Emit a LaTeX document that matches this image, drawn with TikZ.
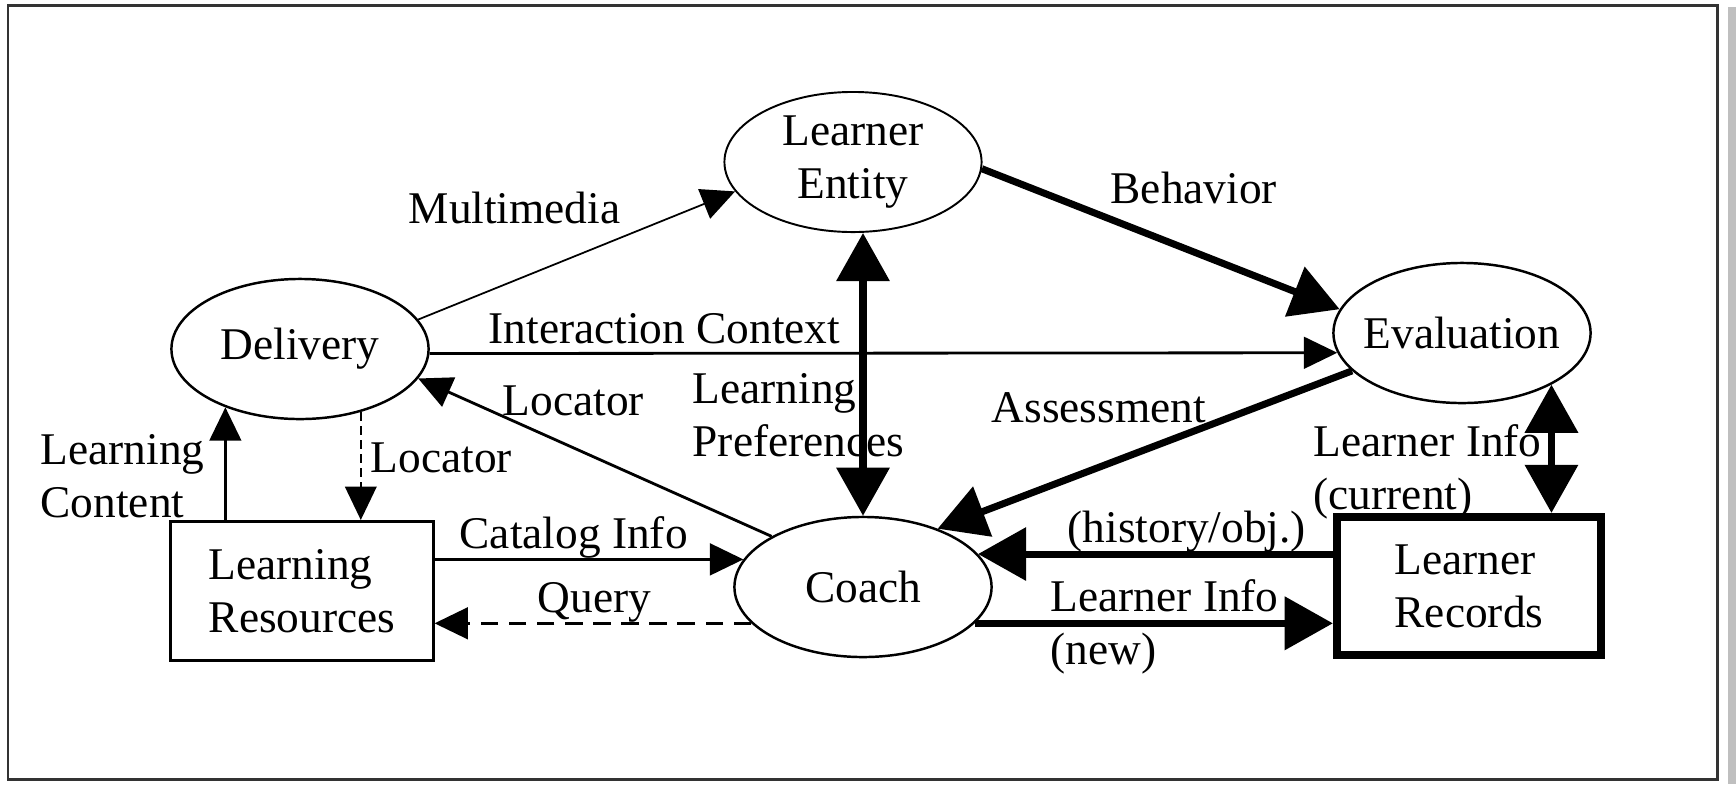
\documentclass[tikz,border=0pt]{standalone}
\usepackage{fontspec}
\setmainfont{Liberation Serif}
\usetikzlibrary{positioning}
\usetikzlibrary{shapes.geometric}
\usetikzlibrary{arrows.meta}

\begin{document}
\begin{tikzpicture}[x=0.01cm,y=-0.01cm,
    font=\fontsize{12.9}{15.1}\selectfont,
    proc/.style={ellipse,draw,line width=0.7pt,minimum width=2.57cm,minimum height=1.4cm,inner sep=0pt,inner xsep=-3pt,align=center},
    lbl/.style={inner sep=0pt,align=left},
    flow/.style={line width=0.8pt,-{Triangle[length=9.5pt,width=9pt]}},
    bigflow/.style={line width=2pt,-{Triangle[length=13.7pt,width=14.8pt]}},
    bigboth/.style={line width=2pt,{Triangle[length=13.7pt,width=14.8pt]}-{Triangle[length=13.7pt,width=14.8pt]}}]
  \useasboundingbox (0,0) rectangle (1736,784);
  \fill[black!25] (1728,7) rectangle (1736,784);
  \draw[line width=0.85pt,black!80] (8,5) rectangle (1717,779);

  \node[proc,line width=0.55pt] (ent) at (853,162) {Learner\\Entity};
  \node[proc] (dlv) at (300,349) {Delivery};
  \node[proc] (eval) at (1462,333) {Evaluation};
  \node[proc] (coach) at (863,587) {Coach};
  \node[draw,line width=0.85pt,minimum width=2.62cm,minimum height=1.39cm,align=left] (res) at (302,591) {Learning\\Resources};
  \node[draw,line width=2.3pt,minimum width=2.64cm,minimum height=1.38cm,align=left] (rec) at (1469,586) {Learner\\Records};

  \node[lbl,anchor=base west] (mm) at (408,223) {Multimedia};
  \node[lbl,anchor=base west] (ic) at (488,343) {Interaction Context};
  \node[lbl,anchor=base west] (bhv) at (1110,203) {Behavior};
  \node[lbl,anchor=base west] (loc1) at (502,415) {Locator};
  \node[lbl,anchor=north west] (pref) at (692,373) {Learning\\Preferences};
  \node[lbl,anchor=base west] (loc2) at (370,472) {Locator};
  \node[lbl,anchor=north west] (cont) at (40,434) {Learning\\Content};
  \node[lbl,anchor=base west] (cat) at (459,548) {Catalog Info};
  \node[lbl,anchor=base west] (qry) at (537,612) {Query};
  \node[lbl,anchor=base west] (asm) at (991,422) {Assessment};
  \node[lbl,anchor=north west] (cur) at (1313,424) {Learner Info\\(current)};
  \node[lbl,anchor=base west] (hist) at (1067,542) {(history/obj.)};
  \node[lbl,anchor=north west] (new) at (1050,579) {Learner Info\\(new)};

  \path[flow]
    (dlv.14) edge[line width=0.5pt] (ent.194)
    (dlv.-2) edge (eval.189)
    (coach.151) edge (dlv.-14)
    (dlv.218 |- res.north) edge (dlv.218)
    (coach.167 -| res.east) edge (coach.167);
  \path[flow,dash pattern=on 5pt off 3pt]
    (coach.198) edge (coach.198 -| res.east);
  \path[flow,line width=0.5pt,dash pattern=on 2.5pt off 1.5pt]
    (dlv.-46) edge (dlv.-46 |- res.north);
  \path[bigflow]
    (ent.-3) edge (eval.169)
    (eval.199) edge (coach.38)
    (coach.16 -| rec.west) edge (coach.16)
    (coach.-18) edge (coach.-18 -| rec.west);
  \path[bigboth]
    (coach.north |- ent.south) edge (coach.north)
    (eval.-30) edge (eval.-30 |- rec.north);
\end{tikzpicture}
\end{document}
